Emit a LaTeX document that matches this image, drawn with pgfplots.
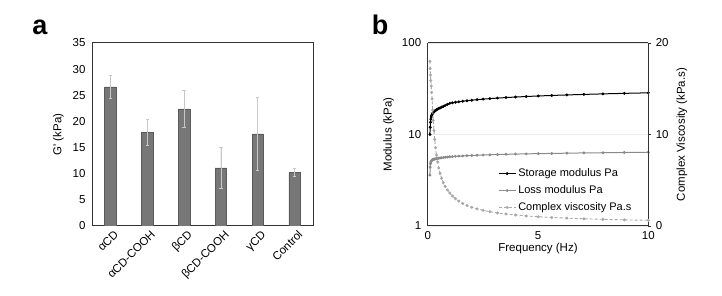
\documentclass[border=0pt]{standalone}
\usepackage{pgfplots}
\pgfplotsset{compat=1.18}
\usepackage{pgfplotstable}
\usepackage{fontspec}
\setmainfont{Liberation Sans}
\definecolor{barfill}{HTML}{777777}
\definecolor{baredge}{HTML}{5A5A5A}
\definecolor{errc}{HTML}{C8C8C8}
\definecolor{lossc}{HTML}{8A8A8A}
\definecolor{viscc}{HTML}{A8A8A8}
\definecolor{framec}{HTML}{333333}

\pgfplotstableread{
f      Gs     Gl    eta
0.1000 10.00  3.60  18.00
0.1122 12.00  4.40  17.20
0.1259 13.60  4.80  16.50
0.1413 14.70  5.00  15.90
0.1585 15.50  5.10  15.30
0.1778 16.10  5.20  14.60
0.1995 16.60  5.25  13.90
0.2239 17.00  5.30  12.66
0.2512 17.40  5.33  11.53
0.2818 17.70  5.36  10.44
0.3162 18.00  5.39   9.46
0.3548 18.30  5.42   8.56
0.3981 18.60  5.45   7.75
0.4467 18.90  5.48   7.01
0.5012 19.20  5.51   6.34
0.5623 19.50  5.54   5.74
0.6310 19.90  5.57   5.21
0.7079 20.30  5.60   4.73
0.7943 20.80  5.63   4.32
0.8913 21.30  5.67   3.94
1.0000 21.90  5.70   3.60
1.1220 22.19  5.73   3.28
1.2589 22.49  5.77   2.98
1.4125 22.79  5.80   2.71
1.5849 23.09  5.83   2.46
1.7783 23.40  5.87   2.24
1.9953 23.71  5.90   2.05
2.2387 24.03  5.93   1.87
2.5119 24.35  5.97   1.71
2.8184 24.67  6.00   1.56
3.1623 25.00  6.04   1.43
3.5481 25.33  6.07   1.31
3.9811 25.67  6.11   1.20
4.4668 26.01  6.14   1.10
5.0119 26.36  6.18   1.01
5.6234 26.71  6.21   0.93
6.3096 27.06  6.25   0.86
7.0795 27.42  6.29   0.79
7.9433 27.79  6.32   0.73
8.9125 28.16  6.36   0.67
10.000 28.54  6.40   0.62
}\rheo

\begin{document}
\begin{tikzpicture}[x=1pt,y=1pt]
\useasboundingbox (0,0) rectangle (722,296);
\node[font=\fontsize{27}{30}\selectfont\bfseries] at (40,268.5) {a};
\node[font=\fontsize{27}{30}\selectfont\bfseries] at (380,271.5) {b};

\pgfplotsset{
  every axis/.append style={
    scale only axis,
    anchor=south west,
    tick label style={font=\fontsize{11.5}{13}\selectfont},
    label style={font=\fontsize{11.5}{13}\selectfont},
    /pgf/number format/assume math mode=true,
    axis line style={draw=framec, line width=1pt},
  }
}

% ---------------- panel a ----------------
\begin{axis}[
  at={(92pt,70pt)},
  width=221pt, height=183pt,
  xmin=-0.5, xmax=5.5,
  ymin=0, ymax=35,
  ytick={0,5,...,35},
  xtick={0,...,5},
  xticklabels={αCD,αCD-COOH,βCD,βCD-COOH,γCD,Control},
  xticklabel style={rotate=45, anchor=north east, xshift=3pt, yshift=-1pt},
  yticklabel style={xshift=-3pt},
  major tick length=0pt,
  ylabel={G\textquotesingle{} (kPa)},
  ylabel style={yshift=2pt},
]
\addplot[ybar, bar width=11.5pt, fill=barfill, draw=baredge, line width=0.5pt,
  error bars/.cd, y dir=both, y explicit,
  error bar style={draw=errc, line width=0.6pt},
  error mark options={rotate=90, mark size=1.6pt, draw=errc, line width=0.6pt}]
coordinates {
  (0,26.6) +- (0,2.2)
  (1,17.9) +- (0,2.5)
  (2,22.4) +- (0,3.5)
  (3,11.1) +- (0,3.9)
  (4,17.6) +- (0,7.0)
  (5,10.25) +- (0,0.7)
};
\end{axis}

% ---------------- panel b, left axis ----------------
\begin{axis}[
  at={(427.7pt,70pt)},
  width=220.6pt, height=183pt,
  xmin=0, xmax=10,
  ymode=log, ymin=1, ymax=100,
  ytick={1,10,100}, yticklabels={1,10,100},
  xtick={0,5,10},
  axis y line*=left,
  axis x line*=bottom,
  ymajorgrids, grid style={draw=black!8, line width=0.6pt},
  major tick length=0pt,
  minor tick length=0pt,
  yticklabel style={xshift=-3pt},
  xticklabel style={yshift=-2pt},
  ylabel={Modulus (kPa)},
  xlabel={Frequency (Hz)},
  ylabel style={yshift=1pt},
  xlabel style={yshift=3pt},
  clip=false,
]
\addplot[draw=black, line width=1pt, mark=*, mark size=0.9pt, mark options={fill=black, draw=black}]
  table[x=f, y=Gs] {\rheo};
\addplot[draw=lossc, line width=1pt, mark=*, mark size=0.9pt, mark options={fill=lossc, draw=lossc}]
  table[x=f, y=Gl] {\rheo};
\end{axis}

% ---------------- panel b, right axis ----------------
\begin{axis}[
  at={(427.7pt,70pt)},
  width=220.6pt, height=183pt,
  xmin=0, xmax=10,
  ymin=0, ymax=20,
  ytick={0,10,20},
  axis y line*=right,
  axis x line*=top,
  xtick=\empty,
  ytick style={draw=framec, line width=0.6pt},
  major tick length=3pt,
  tick align=outside,
  yticklabel style={xshift=1pt},
  ylabel={Complex Viscosity (kPa.s)},
  ylabel style={yshift=-1pt},
  legend style={at={(0.305,0.335)}, anchor=north west, draw=none, fill=none,
    font=\fontsize{11}{13}\selectfont, row sep=3.5pt,
    /tikz/every odd column/.append style={column sep=0pt}},
  legend cell align=left,
]
\addlegendimage{draw=black, line width=1pt, mark=*, mark size=0.9pt, mark options={fill=black}}
\addlegendentry{Storage modulus Pa}
\addlegendimage{draw=lossc, line width=1pt, mark=*, mark size=0.9pt, mark options={fill=lossc, draw=lossc}}
\addlegendentry{Loss modulus Pa}
\addplot[draw=viscc, line width=0.9pt, dash pattern=on 3pt off 2pt, mark=*, mark size=1pt,
  mark options={solid, fill=viscc, draw=viscc}]
  table[x=f, y=eta] {\rheo};
\addlegendentry{Complex viscosity Pa.s}
\end{axis}
\end{tikzpicture}
\end{document}
